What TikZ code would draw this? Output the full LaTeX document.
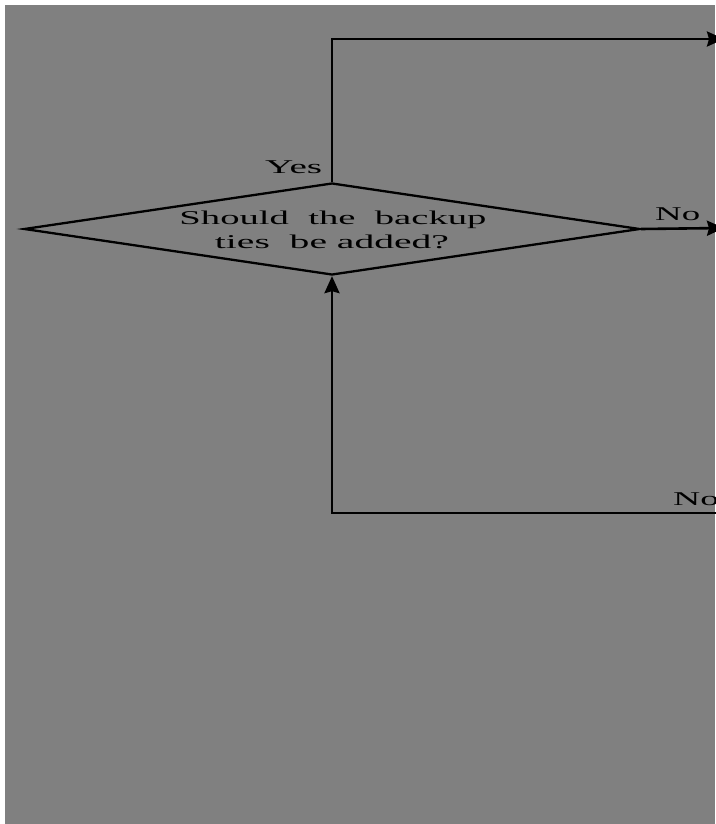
\documentclass[tikz,border=0pt]{standalone}
\usepackage{fontspec}
\setmainfont{Liberation Serif}
\usetikzlibrary{shapes.geometric,arrows.meta}
\definecolor{bggray}{RGB}{128,128,128}
\tikzset{
  flowline/.style={line width=2.6pt, black},
  arr/.style={flowline, -{Stealth[length=17pt,width=15pt,inset=2pt]}},
  lbl/.style={inner sep=0pt, anchor=base west, font=\fontsize{19.5pt}{19.5pt}\selectfont},
  decision/.style={diamond, draw=black, line width=2.3pt, minimum width=616pt, minimum height=92pt, inner sep=0pt, shape aspect=6.7}
}
\begin{document}
\begin{tikzpicture}[x=1pt,y=-1pt]
\useasboundingbox (0,0) rectangle (715,824);
\fill[white] (0,0) rectangle (715,824);
\fill[bggray] (5,5) rectangle (715,824);
\node[decision] (dec) at (332,229) {};
\node[lbl, anchor=base] (q1) at (333,224) {\resizebox{307pt}{\height}{Should\ \ the\ \ backup}};
\node[lbl, anchor=base] (q2) at (332,248) {\resizebox{234pt}{\height}{ties\ \ be added?}};
\coordinate (topR) at (724,39);
\coordinate (rightR) at (724,228);
\coordinate (botR) at (730,513);
\draw[arr] (dec.north) |- (topR);
\draw[arr] (dec.east) -- (rightR);
\draw[arr] (botR) -| (dec.south);
\node[lbl] (yes) at (265,173) {\resizebox{57pt}{\height}{Yes}};
\node[lbl] (no1) at (655,220) {\resizebox{45pt}{\height}{No}};
\node[lbl] (no2) at (673,505) {\resizebox{46pt}{\height}{No}};
\end{tikzpicture}
\end{document}
